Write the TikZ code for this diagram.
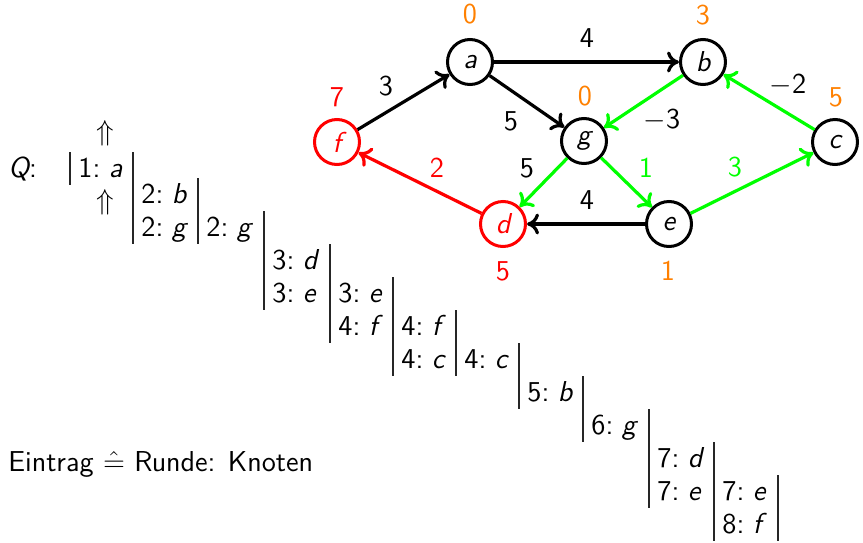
\documentclass[tikz,border=0pt]{standalone}
\usetikzlibrary{arrows.meta}
\renewcommand{\familydefault}{\sfdefault}
\newcommand{\qent}[2]{#1:\hspace{0.3em}{\itshape #2}}
\begin{document}
\begin{tikzpicture}[x=0.5pt,y=-0.5pt,
  every node/.style={font=\fontsize{14.4}{17}\selectfont},
  vtx/.style={circle,draw,line width=1.5pt,minimum size=22.5pt,inner sep=0pt,
              font=\fontsize{14.4}{17}\selectfont\itshape},
  edg/.style={line width=1.6pt,-{To[length=6pt,width=10.5pt]}},
  lbl/.style={inner sep=0pt},
  qe/.style={anchor=base west,inner sep=0pt},
  bar/.style={line width=0.6pt,black!85}]
\useasboundingbox (0,0) rectangle (863,542);

% graph nodes
\node[vtx] (a) at (470,62) {a};
\node[vtx] (b) at (703,62) {b};
\node[vtx] (g) at (584,141) {g};
\node[vtx] (c) at (835,142) {c};
\node[vtx,red] (f) at (337,142) {f};
\node[vtx,red] (d) at (503,224) {d};
\node[vtx] (e) at (669,224) {e};

% edges
\draw[edg] (a) -- (b);
\draw[edg] (f) -- (a);
\draw[edg] (a) -- (g);
\draw[edg,green] (b) -- (g);
\draw[edg,green] (c) -- (b);
\draw[edg,green] (g) -- (d);
\draw[edg,green] (g) -- (e);
\draw[edg,green] (e) -- (c);
\draw[edg] (e) -- (d);
\draw[edg,red] (d) -- (f);

% distance labels
\node[lbl,orange] (da) at (470,14) {0};
\node[lbl,orange] (db) at (703,15) {3};
\node[lbl,orange] (dg) at (585,96) {0};
\node[lbl,orange] (dc) at (836,97) {5};
\node[lbl,red] (df) at (337,97) {7};
\node[lbl,red] (dd) at (503,271) {5};
\node[lbl,orange] (de) at (668,271) {1};

% edge weights
\node[lbl] (wab) at (587,38) {4};
\node[lbl] (wfa) at (386,86) {3};
\node[lbl] (wag) at (511,121) {5};
\node[lbl] (wgd) at (527,168) {5};
\node[lbl,red] (wdf) at (437,168) {2};
\node[lbl] (wed) at (587,200) {4};
\node[lbl] (wbg) at (662,120) {$-$3};
\node[lbl] (wcb) at (788,85) {$-$2};
\node[lbl,green] (wge) at (646,168) {1};
\node[lbl,green] (wec) at (735,167) {3};

% queue
\node[qe] (q) at (8,177) {{\itshape Q}:};
\node[lbl] (up1) at (105,133) {$\Uparrow$};
\node[lbl] (up2) at (105,202) {$\Uparrow$};

\draw[bar] (70,152) -- (70,185);
\draw[bar] (133,152) -- (133,244);
\draw[bar] (198,178) -- (198,244);
\draw[bar] (264,211) -- (264,310);
\draw[bar] (330,244) -- (330,343);
\draw[bar] (393,277) -- (393,376);
\draw[bar] (456,310) -- (456,376);
\draw[bar] (519,343) -- (519,409);
\draw[bar] (583,376) -- (583,442);
\draw[bar] (649,409) -- (649,508);
\draw[bar] (714,442) -- (714,541);
\draw[bar] (778,475) -- (778,541);

\node[qe] (q1a) at (78,177) {\qent{1}{a}};
\node[qe] (q2b) at (141,203) {\qent{2}{b}};
\node[qe] (q2g) at (141,236) {\qent{2}{g}};
\node[qe] (q2g2) at (206,236) {\qent{2}{g}};
\node[qe] (q3d) at (272,269) {\qent{3}{d}};
\node[qe] (q3e) at (272,302) {\qent{3}{e}};
\node[qe] (q3e2) at (338,302) {\qent{3}{e}};
\node[qe] (q4f) at (338,335) {\qent{4}{f}};
\node[qe] (q4f2) at (401,335) {\qent{4}{f}};
\node[qe] (q4c) at (401,368) {\qent{4}{c}};
\node[qe] (q4c2) at (464,368) {\qent{4}{c}};
\node[qe] (q5b) at (527,401) {\qent{5}{b}};
\node[qe] (q6g) at (591,434) {\qent{6}{g}};
\node[qe] (q7d) at (657,467) {\qent{7}{d}};
\node[qe] (q7e) at (657,500) {\qent{7}{e}};
\node[qe] (q7e2) at (722,500) {\qent{7}{e}};
\node[qe] (q8f) at (722,533) {\qent{8}{f}};

\node[qe] (legend) at (8,471) {Eintrag $\mathrel{\hat{=}}$ Runde: Knoten};
\end{tikzpicture}
\end{document}
